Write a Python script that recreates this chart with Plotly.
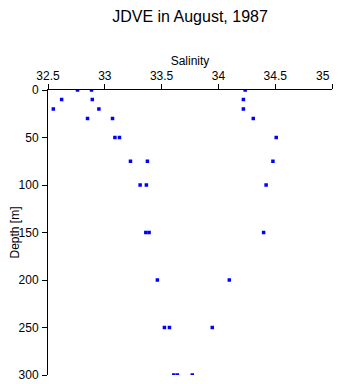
import plotly.graph_objects as go

depth = [0, 0, 0,
         10, 10, 10,
         20, 20, 20,
         30, 30, 30,
         50, 50, 50,
         75, 75, 75,
         100, 100, 100,
         150, 150, 150,
         200, 200,
         250, 250, 250,
         300, 300, 300]
salinity = [32.76, 32.883, 34.236,
            32.62, 32.89, 34.22,
            32.547, 32.948, 34.22,
            32.848, 33.068, 34.307,
            33.089, 33.129, 34.509,
            33.226, 33.375, 34.48,
            33.311, 33.366, 34.42,
            33.361, 33.39, 34.398,
            33.463, 34.096,
            33.525, 33.569, 33.946,
            33.607, 33.639, 33.77]

x_ticks = [32.5, 33, 33.5, 34, 34.5, 35]
x_tick_text = ["32.5", "33", "33.5", "34", "34.5", "35"]
y_ticks = [0, 50, 100, 150, 200, 250, 300]

fig = go.Figure()
fig.add_trace(go.Scatter(
    x=salinity, y=depth, mode="markers",
    marker=dict(symbol="square", size=3.5, color="#0000ff", line=dict(width=0)),
    showlegend=False, hoverinfo="x+y"))

# the last tick label sits to the left of its tick in the reference,
# so it is drawn as an annotation anchored at its tick value
shown_text = x_tick_text[:-1] + [""]
fig.add_annotation(x=x_ticks[-1], xref="x", xanchor="right",
                   y=1, yref="paper", yanchor="bottom", yshift=5,
                   text=x_tick_text[-1], showarrow=False,
                   font=dict(size=12, color="black"))

# page body has an 8px margin, so the figure is sized to fit the 341x384 window
fig.update_layout(
    width=333, height=376,
    margin=dict(l=40, r=9, t=82, b=9, autoexpand=False),
    paper_bgcolor="white", plot_bgcolor="white",
    font=dict(family="Liberation Sans, Arial, sans-serif", size=12, color="black"),
    title=dict(text="JDVE in August, 1987", xref="paper", x=0.5, xanchor="center",
               yref="container", y=0.993, yanchor="top", pad=dict(t=0),
               font=dict(size=16)),
    xaxis=dict(range=[32.5, 35], side="top", tickvals=x_ticks, ticktext=shown_text,
               ticks="outside", ticklen=5, tickcolor="black", showline=True,
               linecolor="black", linewidth=1, showgrid=False, zeroline=False,
               automargin=False, ticklabelstandoff=-1, ticklabeloverflow="allow",
               title=dict(text="Salinity", standoff=1, font=dict(size=12))),
    yaxis=dict(range=[300, 0], tickvals=y_ticks, ticks="outside", ticklen=5,
               tickcolor="black", showline=True, linecolor="black", linewidth=1,
               showgrid=False, zeroline=False, automargin=False,
               ticklabelstandoff=1, ticklabeloverflow="allow",
               title=dict(text="Depth [m]", standoff=6, font=dict(size=12))),
)

fig.write_html("out.html")
